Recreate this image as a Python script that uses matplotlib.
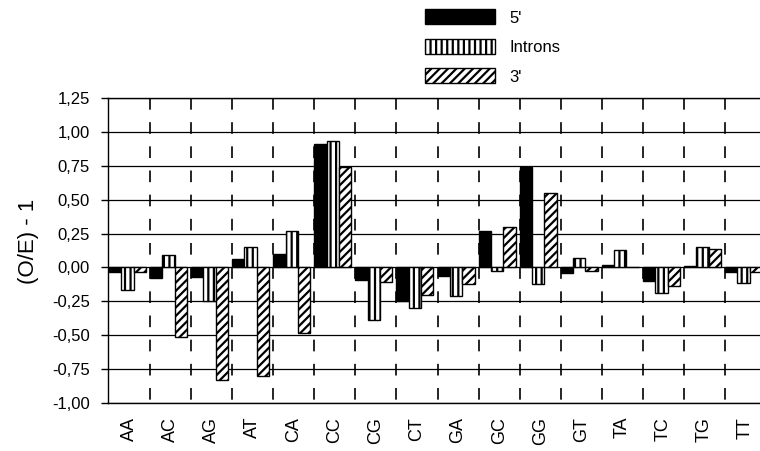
import numpy as np
from matplotlib import pyplot as plt
from matplotlib.patches import Patch

plt.rcParams['font.family'] = ['Liberation Sans', 'DejaVu Sans']
plt.rcParams['hatch.linewidth'] = 1.6

# dinucleotide categories
pairs = ['AA', 'AC', 'AG', 'AT', 'CA', 'CC', 'CG', 'CT',
         'GA', 'GC', 'GG', 'GT', 'TA', 'TC', 'TG', 'TT']

# (O/E) - 1 values
five_prime = [-0.03, -0.08, -0.07, 0.06, 0.10, 0.91, -0.09, -0.25,
              -0.06, 0.27, 0.74, -0.04, 0.02, -0.10, 0.01, -0.03]
introns = [-0.165, 0.09, -0.25, 0.15, 0.27, 0.93, -0.39, -0.30,
           -0.21, -0.025, -0.12, 0.07, 0.13, -0.19, 0.15, -0.115]
three_prime = [-0.03, -0.51, -0.83, -0.80, -0.48, 0.74, -0.11, -0.20,
               -0.125, 0.30, 0.55, -0.025, 0.005, -0.14, 0.135, -0.03]

series_labels = ["5'", 'Introns', "3'"]

yticks = [-1.0, -0.75, -0.5, -0.25, 0.0, 0.25, 0.5, 0.75, 1.0, 1.25]
ytick_labels = ['-1,00', '-0,75', '-0,50', '-0,25', '0,00',
                '0,25', '0,50', '0,75', '1,00', '1,25']

fig = plt.figure(figsize=(7.6, 4.51), dpi=100)
ax = fig.add_axes([0.1417, 0.1064, 0.8583, 0.6763])

x = np.arange(len(pairs))
w = 0.3

# horizontal grid lines (solid) drawn first so bars sit on top
for yv in yticks:
    ax.axhline(yv, color='black', lw=0.9, zorder=1)

# dashed separators between categories, starting from the top
ax.vlines(x[:-1] + 0.5, 1.25, -1.0, colors='black', lw=1.2,
          linestyles=(0, (7, 7.5)), zorder=1)

# the three series
styles = [dict(facecolor='black', hatch=None),
          dict(facecolor='white', hatch='|||'),
          dict(facecolor='white', hatch='////')]
offsets = [-0.35, -0.05, 0.25]
for vals, off, st in zip([five_prime, introns, three_prime], offsets, styles):
    ax.bar(x + off, vals, width=w, edgecolor='black', linewidth=1.0,
           zorder=3, **st)

ax.set_xlim(-0.53, 15.35)
ax.set_ylim(-1.0, 1.25)

ax.set_yticks(yticks)
ax.set_yticklabels(ytick_labels, fontsize=12)
ax.tick_params(axis='y', direction='out', length=5, width=1, pad=8)

ax.set_xticks(x)
ax.set_xticklabels(pairs, rotation=90, fontsize=13)
ax.tick_params(axis='x', length=0, pad=10)

ax.set_ylabel('(O/E) - 1', fontsize=16)
ax.yaxis.set_label_coords(-0.105, 0.53)

for side in ['left', 'bottom', 'top']:
    ax.spines[side].set_linewidth(1.0)
ax.spines['right'].set_visible(False)

# legend in the top middle
handles = [Patch(facecolor=st['facecolor'], edgecolor='black',
                 hatch=st['hatch'], linewidth=1.0) for st in styles]
fig.legend(handles, series_labels, loc='upper left',
           bbox_to_anchor=(0.559, 0.979), frameon=False, fontsize=12,
           borderpad=0, borderaxespad=0, handlelength=4.2,
           handleheight=1.0, handletextpad=0.85, labelspacing=0.8)

fig.savefig('out.png', dpi=100)
